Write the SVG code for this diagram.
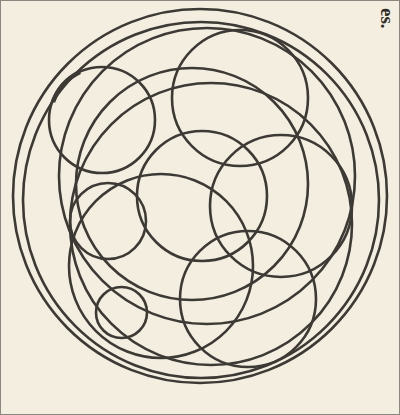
<svg xmlns="http://www.w3.org/2000/svg" width="400" height="415" viewBox="0 0 400 415">
<style>
.c{fill:none;stroke:#3d3a35;stroke-width:2.6}
.t{font-family:"Liberation Serif",serif;font-weight:bold;font-size:19px;fill:#2e2b27}
</style>
<rect x="0" y="0" width="400" height="415" fill="#f3eee0"/>
<rect x="0.5" y="0.5" width="399" height="414" fill="none" stroke="#8a8680" stroke-width="1"/>
<g id="circles">
<circle id="A" class="c" cx="200" cy="196" r="187"/>
<circle id="B" class="c" cx="201" cy="200" r="178"/>
<circle id="C1" class="c" cx="207" cy="176" r="148"/>
<circle id="X1" class="c" cx="211" cy="224" r="141"/>
<circle id="P" class="c" cx="192" cy="184" r="116"/>
<circle id="D" class="c" cx="102" cy="120" r="53"/>
<path id="Dthick" d="M 53 102 A 53 53 0 0 1 80 72" fill="none" stroke="#3d3a35" stroke-width="4.5"/>
<circle id="F" class="c" cx="240" cy="98" r="68"/>
<circle id="G" class="c" cx="202" cy="196" r="65"/>
<circle id="E" class="c" cx="281" cy="206" r="71"/>
<circle id="H" class="c" cx="108" cy="221" r="38"/>
<circle id="I" class="c" cx="121.5" cy="312.5" r="25.5"/>
<circle id="J" class="c" cx="248" cy="299" r="68"/>
<circle id="K" class="c" cx="161" cy="266" r="92"/>
</g>
<text class="t" transform="translate(381,8) rotate(90)">es.</text>
</svg>
